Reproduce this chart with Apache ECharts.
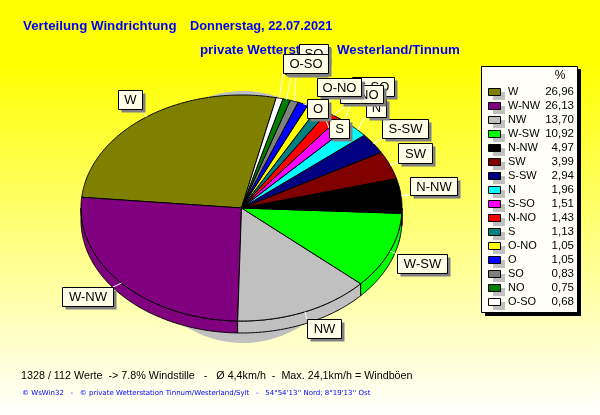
<!DOCTYPE html>
<html><head><meta charset="utf-8">
<style>html,body{margin:0;padding:0;background:#fff}#c{width:600px;height:415px}</style>
<script src="https://cdn.jsdelivr.net/npm/echarts@6/dist/echarts.min.js"></script>
</head><body><div id="c"></div>
<script>
const categories = ['W','W-NW','NW','W-SW','N-NW','SW','S-SW','N','S-SO','N-NO','S','O-NO','O','SO','NO','O-SO'];
const percents = [26.96,26.13,13.70,10.92,4.97,3.99,2.94,1.96,1.51,1.43,1.13,1.05,1.05,0.83,0.75,0.68];
const percentLabels = ['26,96','26,13','13,70','10,92','4,97','3,99','2,94','1,96','1,51','1,43','1,13','1,05','1,05','0,83','0,75','0,68'];
const sliceColors = ['#808000','#800080','#c0c0c0','#00ff00','#000000','#800000','#000080','#00ffff','#ff00ff','#ff0000','#008080','#ffff00','#0000ff','#808080','#008000','#ffffff'];

// layout of the callout boxes: x0, y0, x1, y1, leader end x, leader end y
const calloutLayout = [
  [118,90,142,109,137,109],[62,287,113,306,113,287],[307,319,341,338,307,319],[397,254,447,273,397,254],
  [410,177,457,195,410,195],[398,143,432,163,398,163],[382,119,428,138,382,138],[366,98,386,117,365,117],
  [352,77,394,96,352,96],[340,85,383,103,350,103],[329,119,349,138,329,128],[317,78,361,96,340,96],
  [307,99,328,118,307,105],[299,44,328,63,297,63],[285,55,325,74,291,77],[283,54,328,73,283,73]
];
const cx = 241.5, cy = 208, rx = 160.5, ry = 113, depth = 12, startDeg = 77.5;
const total = percents.reduce((a,b)=>a+b,0);
const bounds = [startDeg];
percents.forEach(v => bounds.push(bounds[bounds.length-1] + v/total*360));
const pt = (deg, dy=0) => [cx + rx*Math.cos(deg*Math.PI/180), cy + dy - ry*Math.sin(deg*Math.PI/180)];
const arc = (a,b,dy=0) => { const p=[]; const n=Math.max(2,Math.ceil((b-a)*2)); for(let i=0;i<=n;i++) p.push(pt(a+(b-a)*i/n,dy)); return p; };

function renderSlice(params){
  const i = params.dataIndex, a = bounds[i], b = bounds[i+1], fill = sliceColors[i], children = [];
  const la = Math.max(a,180), lb = Math.min(b,360);
  if (lb > la) {
    children.push({type:'polygon',shape:{points:arc(la,lb,0).concat(arc(la,lb,depth).reverse())},style:{fill,stroke:'#000',lineWidth:1}});
  }
  children.push({type:'polygon',shape:{points:[[cx,cy]].concat(arc(a,b))},style:{fill,stroke:'#000',lineWidth:1}});
  return {type:'group',children};
}
function renderCallout(params){
  const i = params.dataIndex, [x0,y0,x1,y1,ex,ey] = calloutLayout[i];
  const s = pt((bounds[i]+bounds[i+1])/2);
  return {type:'group',children:[
    {type:'line',shape:{x1:s[0],y1:s[1],x2:ex,y2:ey},style:{stroke:'#fff',lineWidth:1}},
    {type:'rect',shape:{x:x0+3.5,y:y0+3.5,width:x1-x0,height:y1-y0},style:{fill:'#808080'}},
    {type:'rect',shape:{x:x0+.5,y:y0+.5,width:x1-x0,height:y1-y0},style:{fill:'#ffffe8',stroke:'#000',lineWidth:1}},
    {type:'text',x:(x0+x1)/2+.5,y:(y0+y1)/2+1,style:{text:categories[i],font:'13px "Liberation Sans"',fill:'#000',align:'center',verticalAlign:'middle'}}
  ]};
}
function renderLegendRow(params){
  const i = params.dataIndex, y = 92 + i*14;
  return {type:'group',children:[
    {type:'rect',shape:{x:493,y:y,width:12,height:8},style:{fill:'#c0c0c0'}},
    {type:'rect',shape:{x:488.5,y:y-3.5,width:12,height:7},style:{fill:sliceColors[i],stroke:'#000',lineWidth:1}},
    {type:'text',x:508,y:y,style:{text:categories[i],font:'11px "Liberation Sans"',fill:'#000',align:'left',verticalAlign:'middle'}},
    {type:'text',x:574,y:y,style:{text:percentLabels[i],font:'11.5px "Liberation Sans"',fill:'#000',align:'right',verticalAlign:'middle'}}
  ]};
}
const chart = echarts.init(document.getElementById('c'),null,{renderer:'canvas'});
const titleFont = {color:'#0000ff',fontFamily:'Liberation Sans',fontWeight:'bold',fontSize:13.3};
const dateFont = Object.assign({},titleFont,{fontSize:12.8});
chart.setOption({
  animation:false,
  backgroundColor:new echarts.graphic.LinearGradient(0,0,0,1,[{offset:0,color:'#ffff00'},{offset:.15,color:'#ffff00'},{offset:1,color:'#ffffff'}]),
  title:[
    {text:'Verteilung Windrichtung',left:23,top:20,padding:0,z:0,textStyle:titleFont},
    {text:'Donnerstag, 22.07.2021',left:190,top:20,padding:0,z:0,textStyle:dateFont},
    {text:'private Wetterstation',left:200,top:44,padding:0,z:0,textStyle:titleFont},
    {text:'Westerland/Tinnum',left:337,top:44,padding:0,z:0,textStyle:titleFont},
    {text:'1328 / 112 Werte  -> 7.8% Windstille   -   Ø 4,4km/h  -  Max. 24,1km/h = Windböen',left:21,top:371,padding:0,z:0,textStyle:{color:'#000',fontFamily:'Liberation Sans',fontWeight:'normal',fontSize:10.75}},
    {text:"© WsWin32   -   © private Wetterstation Tinnum/Westerland/Sylt   -   54°54'13'' Nord; 8°19'13'' Ost",left:22,top:390,padding:0,z:0,textStyle:{color:'#0000ff',fontFamily:'DejaVu Sans',fontWeight:'normal',fontSize:7}}
  ],
  graphic:[
    {type:'polygon',z:1,shape:{points:Array.from({length:181},(_,k)=>[243+116*Math.cos(k*2*Math.PI/180),217+126*Math.sin(k*2*Math.PI/180)])},style:{fill:'#c0c0c0'}},
    {type:'rect',z:1,shape:{x:485,y:69,width:96,height:247},style:{fill:'#000'}},
    {type:'rect',z:1,shape:{x:481.5,y:66.5,width:96,height:246},style:{fill:'#fffff8',stroke:'#000',lineWidth:1}},
    {type:'text',z:5,x:560,y:76,style:{text:'%',font:'12px "Liberation Sans"',fill:'#000',align:'center',verticalAlign:'middle'}}
  ],
  series:[
    {type:'custom',coordinateSystem:'none',z:3,data:percents,renderItem:renderSlice,silent:true},
    {type:'custom',coordinateSystem:'none',z:4,data:percents,renderItem:renderCallout,silent:true},
    {type:'custom',coordinateSystem:'none',z:5,data:percents,renderItem:renderLegendRow,silent:true}
  ]
});
</script></body></html>
